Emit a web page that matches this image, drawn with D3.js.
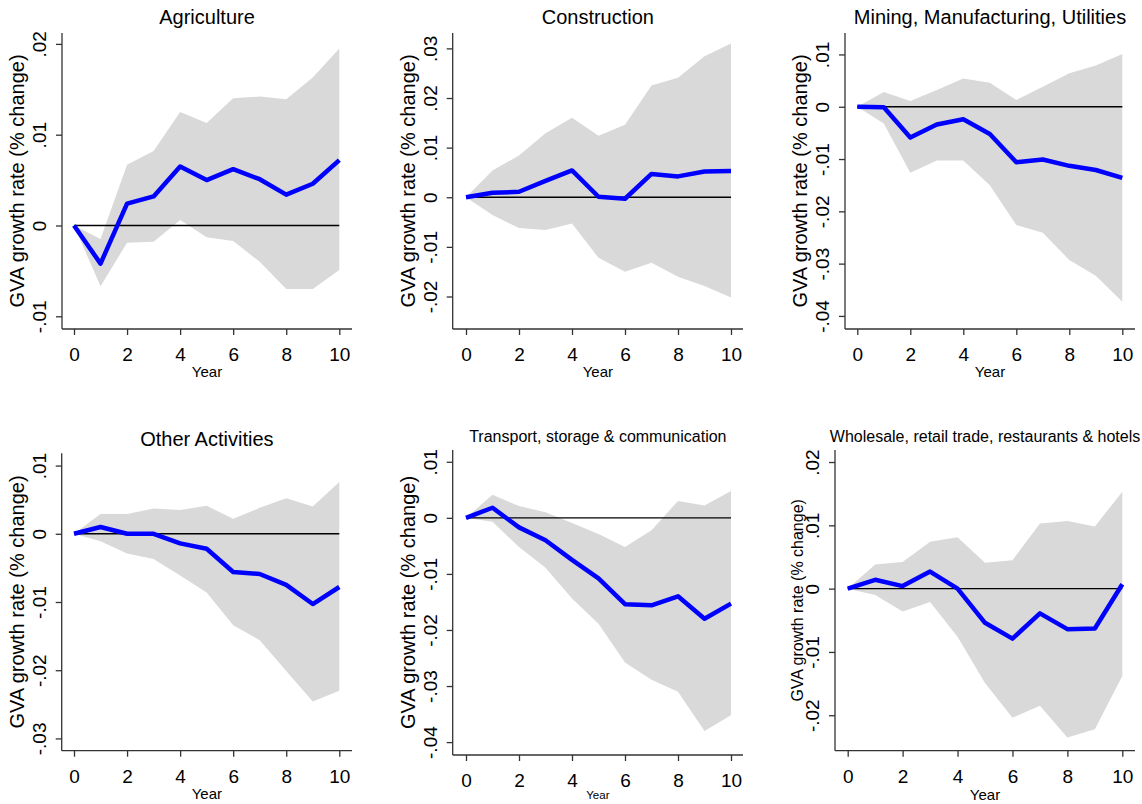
<!DOCTYPE html>
<html>
<head>
<meta charset="utf-8">
<script src="https://cdn.jsdelivr.net/npm/d3@7"></script>
<style>
  body { margin: 0; background: #fff; }
  svg { display: block; }
</style>
</head>
<body>
<svg id="chart" width="1142" height="804"></svg>
<script>
// Horizon (years after the shock) and x-axis ticks shared by all panels
const years = [0, 1, 2, 3, 4, 5, 6, 7, 8, 9, 10];
const xTicks = [0, 2, 4, 6, 8, 10];

// Agriculture: impulse response and confidence band
const agricultureIrf = [0, -0.0042, 0.0024, 0.0032, 0.0065, 0.0050, 0.0062, 0.0051, 0.0034, 0.0046, 0.0072];
const agricultureLo  = [0, -0.0067, -0.0019, -0.0018, 0.0006, -0.0013, -0.0017, -0.0040, -0.0070, -0.0070, -0.0049];
const agricultureHi  = [0, -0.0015, 0.0067, 0.0082, 0.0125, 0.0113, 0.0140, 0.0142, 0.0139, 0.0163, 0.0195];
const agricultureTicks = [-0.01, 0, 0.01, 0.02];

// Construction
const constructionIrf = [0, 0.0009, 0.0011, 0.0033, 0.0054, 0.0001, -0.0003, 0.0047, 0.0042, 0.0052, 0.0053];
const constructionLo  = [0, -0.0036, -0.0062, -0.0066, -0.0053, -0.0122, -0.0150, -0.0132, -0.0160, -0.0179, -0.0202];
const constructionHi  = [0, 0.0054, 0.0084, 0.0129, 0.0160, 0.0124, 0.0146, 0.0225, 0.0241, 0.0284, 0.0310];
const constructionTicks = [-0.02, -0.01, 0, 0.01, 0.02, 0.03];

// Mining, manufacturing, utilities
const miningIrf = [0, -0.0001, -0.0059, -0.0034, -0.0024, -0.0052, -0.0106, -0.0101, -0.0113, -0.0121, -0.0136];
const miningLo  = [0, -0.0032, -0.0126, -0.0103, -0.0103, -0.0150, -0.0226, -0.0241, -0.0293, -0.0323, -0.0373];
const miningHi  = [0, 0.0028, 0.0011, 0.0032, 0.0054, 0.0046, 0.0013, 0.0038, 0.0064, 0.0079, 0.0101];
const miningTicks = [-0.04, -0.03, -0.02, -0.01, 0, 0.01];

// Other activities
const otherIrf = [0, 0.0010, 0, 0, -0.0014, -0.0022, -0.0056, -0.0059, -0.0075, -0.0103, -0.0078];
const otherLo  = [0, -0.0011, -0.0029, -0.0037, -0.0061, -0.0086, -0.0134, -0.0156, -0.0201, -0.0246, -0.0230];
const otherHi  = [0, 0.0029, 0.0029, 0.0037, 0.0035, 0.0041, 0.0022, 0.0038, 0.0052, 0.0040, 0.0076];
const otherTicks = [-0.03, -0.02, -0.01, 0, 0.01];

// Transport, storage & communication
const transportIrf = [0, 0.0018, -0.0017, -0.0040, -0.0075, -0.0108, -0.0154, -0.0156, -0.0140, -0.0180, -0.0153];
const transportLo  = [0, -0.0007, -0.0052, -0.0089, -0.0144, -0.0189, -0.0258, -0.0289, -0.0310, -0.0380, -0.0352];
const transportHi  = [0, 0.0041, 0.0021, 0.0010, -0.0009, -0.0029, -0.0052, -0.0022, 0.0030, 0.0022, 0.0048];
const transportTicks = [-0.04, -0.03, -0.02, -0.01, 0, 0.01];

// Wholesale, retail trade, restaurants & hotels
const tradeIrf = [0, 0.0014, 0.0004, 0.0027, 0, -0.0054, -0.0079, -0.0039, -0.0064, -0.0063, 0.0007];
const tradeLo  = [0, -0.0010, -0.0036, -0.0021, -0.0076, -0.0149, -0.0204, -0.0185, -0.0235, -0.0222, -0.0138];
const tradeHi  = [0, 0.0038, 0.0042, 0.0074, 0.0081, 0.0041, 0.0045, 0.0103, 0.0107, 0.0098, 0.0153];
const tradeTicks = [-0.02, -0.01, 0, 0.01, 0.02];

const yTitle = "GVA growth rate (% change)";
const xTitle = "Year";

// Panel layout: plot frame, axis ranges and text sizes
const panels = [
  { title: "Agriculture", irf: agricultureIrf, lo: agricultureLo, hi: agricultureHi, ticks: agricultureTicks,
    yDomain: [-0.0114, 0.0212], left: 62, right: 352, top: 33, bottom: 329, x0: 74, x10: 339.3,
    titleY: 23.5, titleSize: 20, yTitleSize: 20, yTitleOff: 38, xTitleSize: 15, xTitleOff: 48 },
  { title: "Construction", irf: constructionIrf, lo: constructionLo, hi: constructionHi, ticks: constructionTicks,
    yDomain: [-0.02655, 0.0331], left: 452.7, right: 743, top: 33, bottom: 329, x0: 466, x10: 731,
    titleY: 23.5, titleSize: 20, yTitleSize: 20, yTitleOff: 38, xTitleSize: 15, xTitleOff: 48 },
  { title: "Mining, Manufacturing, Utilities", irf: miningIrf, lo: miningLo, hi: miningHi, ticks: miningTicks,
    yDomain: [-0.0425, 0.0141], left: 845, right: 1135, top: 33, bottom: 329, x0: 857.3, x10: 1122.3,
    titleY: 23.5, titleSize: 20, yTitleSize: 20, yTitleOff: 38, xTitleSize: 15, xTitleOff: 48 },
  { title: "Other Activities", irf: otherIrf, lo: otherLo, hi: otherHi, ticks: otherTicks,
    yDomain: [-0.0318, 0.0118], left: 61.7, right: 352, top: 453.3, bottom: 750.7, x0: 74, x10: 339.3,
    titleY: 446, titleSize: 20, yTitleSize: 20, yTitleOff: 38, xTitleSize: 15, xTitleOff: 48 },
  { title: "Transport, storage & communication", irf: transportIrf, lo: transportLo, hi: transportHi, ticks: transportTicks,
    yDomain: [-0.0423, 0.0121], left: 452.7, right: 743, top: 450, bottom: 755, x0: 466, x10: 731,
    titleY: 442, titleSize: 16, yTitleSize: 20, yTitleOff: 38, xTitleSize: 11.5, xTitleOff: 44 },
  { title: "Wholesale, retail trade, restaurants & hotels", irf: tradeIrf, lo: tradeLo, hi: tradeHi, ticks: tradeTicks,
    yDomain: [-0.0256, 0.0219], left: 835, right: 1135, top: 450, bottom: 750.7, x0: 847.7, x10: 1122.3,
    titleY: 442, titleSize: 16, yTitleSize: 16, yTitleOff: 32, xTitleSize: 15, xTitleOff: 49 }
];

const FONT = '"Liberation Sans", Arial, Helvetica, sans-serif';
const AXIS_COLOR = "#333";
const svg = d3.select("#chart");

// Stata-style tick labels: ".02", "-.01", "0"
function fmtTick(v) {
  if (Math.abs(v) < 1e-12) return "0";
  const s = Math.abs(v).toFixed(2).replace(/^0/, "");
  return (v < 0 ? "-" : "") + s;
}

function drawPanel(p) {
  const x = d3.scaleLinear().domain([0, 10]).range([p.x0, p.x10]);
  const y = d3.scaleLinear().domain(p.yDomain).range([p.bottom, p.top]);
  const g = svg.append("g");

  // confidence band
  const band = d3.area()
    .x((d, i) => x(years[i]))
    .y0((d, i) => y(p.lo[i]))
    .y1((d, i) => y(p.hi[i]));
  g.append("path").datum(years).attr("d", band).attr("fill", "#d9d9d9");

  // zero reference line
  g.append("line")
    .attr("x1", x(years[0])).attr("x2", x(years[years.length - 1]))
    .attr("y1", y(0)).attr("y2", y(0))
    .attr("stroke", "#000").attr("stroke-width", 1.4);

  // impulse response
  const irfLine = d3.line()
    .x((d, i) => x(years[i]))
    .y((d, i) => y(p.irf[i]));
  g.append("path").datum(years).attr("d", irfLine)
    .attr("fill", "none").attr("stroke", "#0000ff")
    .attr("stroke-width", 4.5).attr("stroke-linejoin", "round").attr("stroke-linecap", "butt");

  // axis frame lines
  g.append("line").attr("x1", p.left).attr("x2", p.left).attr("y1", p.top).attr("y2", p.bottom)
    .attr("stroke", AXIS_COLOR).attr("stroke-width", 1.3);
  g.append("line").attr("x1", p.left).attr("x2", p.right).attr("y1", p.bottom).attr("y2", p.bottom)
    .attr("stroke", AXIS_COLOR).attr("stroke-width", 1.3);

  // x axis
  const xAxis = g.append("g").attr("transform", `translate(0,${p.bottom})`)
    .call(d3.axisBottom(x).tickValues(xTicks).tickSize(6).tickFormat(d3.format("d")));
  xAxis.select(".domain").remove();
  xAxis.selectAll(".tick line").attr("stroke", AXIS_COLOR).attr("stroke-width", 1.3);
  xAxis.selectAll(".tick text")
    .attr("y", 32).attr("dy", null)
    .attr("font-family", FONT).attr("font-size", 19).attr("fill", "#000");

  // y axis with rotated labels
  const yAxis = g.append("g").attr("transform", `translate(${p.left},0)`)
    .call(d3.axisLeft(y).tickValues(p.ticks).tickSize(6).tickFormat(fmtTick));
  yAxis.select(".domain").remove();
  yAxis.selectAll(".tick line").attr("stroke", AXIS_COLOR).attr("stroke-width", 1.3);
  yAxis.selectAll(".tick text")
    .attr("x", 0).attr("y", 0).attr("dy", null)
    .attr("text-anchor", "middle")
    .attr("transform", "translate(-16,0) rotate(-90)")
    .attr("font-family", FONT).attr("font-size", 19).attr("fill", "#000");

  // panel title
  g.append("text")
    .attr("x", (p.left + p.right) / 2).attr("y", p.titleY)
    .attr("text-anchor", "middle")
    .attr("font-family", FONT).attr("font-size", p.titleSize).attr("fill", "#000")
    .text(p.title);

  // y-axis title
  g.append("text")
    .attr("transform", `translate(${p.left - p.yTitleOff},${(p.top + p.bottom) / 2}) rotate(-90)`)
    .attr("text-anchor", "middle")
    .attr("font-family", FONT).attr("font-size", p.yTitleSize).attr("fill", "#000")
    .text(yTitle);

  // x-axis title
  g.append("text")
    .attr("x", (p.left + p.right) / 2).attr("y", p.bottom + p.xTitleOff)
    .attr("text-anchor", "middle")
    .attr("font-family", FONT).attr("font-size", p.xTitleSize).attr("fill", "#000")
    .text(xTitle);
}

panels.forEach(drawPanel);
</script>
</body>
</html>
